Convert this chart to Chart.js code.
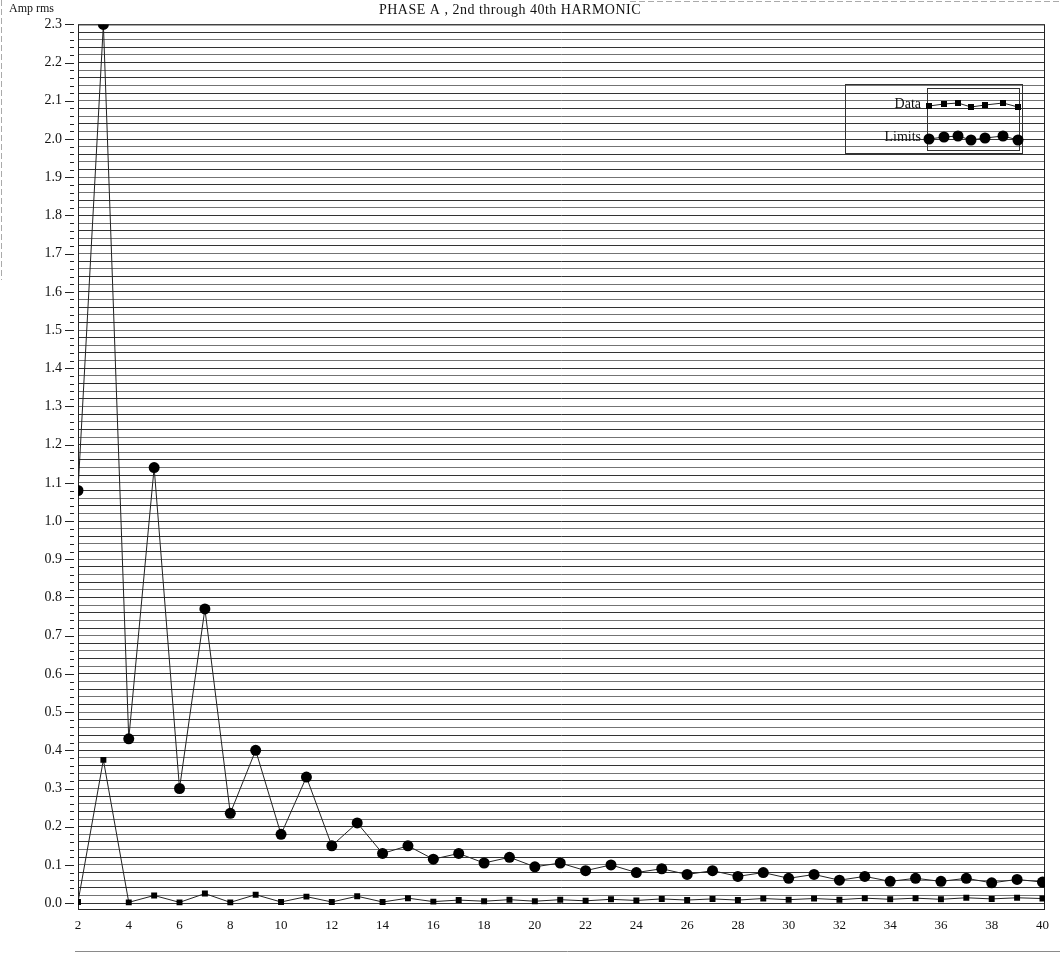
<!DOCTYPE html>
<html>
<head>
<meta charset="utf-8">
<title>PHASE A harmonics</title>
<script src="https://cdn.jsdelivr.net/npm/chart.js@4.4.1/dist/chart.umd.min.js"></script>
<style>
  html, body { margin: 0; padding: 0; background: #fff; }
  #wrap { width: 1060px; height: 953px; position: relative; }
</style>
</head>
<body>
<div id="wrap"><canvas id="harmChart" width="1060" height="953"></canvas></div>
<script>
// harmonic order 2..40
const harmonics = [2, 3, 4, 5, 6, 7, 8, 9, 10, 11, 12, 13, 14, 15, 16, 17, 18, 19, 20, 21,
  22, 23, 24, 25, 26, 27, 28, 29, 30, 31, 32, 33, 34, 35, 36, 37, 38, 39, 40];

// measured amps
const dataAmps = [0.003, 0.375, 0.002, 0.020, 0.002, 0.025, 0.002, 0.022, 0.003, 0.017,
  0.003, 0.018, 0.003, 0.013, 0.004, 0.008, 0.005, 0.009, 0.005, 0.009,
  0.006, 0.010, 0.007, 0.011, 0.008, 0.011, 0.008, 0.012, 0.009, 0.012,
  0.009, 0.013, 0.010, 0.013, 0.010, 0.014, 0.011, 0.014, 0.012];

// allowed limits
const limitAmps = [1.08, 2.30, 0.43, 1.14, 0.30, 0.77, 0.235, 0.40, 0.18, 0.33,
  0.15, 0.21, 0.13, 0.15, 0.115, 0.13, 0.105, 0.12, 0.095, 0.105,
  0.085, 0.10, 0.08, 0.09, 0.075, 0.085, 0.07, 0.08, 0.065, 0.075,
  0.06, 0.07, 0.057, 0.065, 0.057, 0.065, 0.053, 0.062, 0.055];

const xTickLabels = [2, 4, 6, 8, 10, 12, 14, 16, 18, 20, 22, 24, 26, 28, 30, 32, 34, 36, 38, 40];
const yTickLabels = ['0.0', '0.1', '0.2', '0.3', '0.4', '0.5', '0.6', '0.7', '0.8', '0.9', '1.0', '1.1',
  '1.2', '1.3', '1.4', '1.5', '1.6', '1.7', '1.8', '1.9', '2.0', '2.1', '2.2', '2.3'];

const chartTitle = 'PHASE A , 2nd through 40th HARMONIC';
const yAxisTitle = 'Amp rms';

// grid every 0.02, labelled every 0.1
const yGrid = [];
for (let i = 0; i <= 115; i++) yGrid.push({ value: Math.round(i * 2) / 100, label: i % 5 === 0 ? yTickLabels[i / 5] : '' });

const SERIF = '"Liberation Serif", "DejaVu Serif", serif';

const toPoints = vals => harmonics.map((h, i) => ({ x: h, y: vals[i] }));

// plot frame, axis tick marks, title, legend and the page edges
const decorPlugin = {
  id: 'decor',
  beforeDatasetsDraw(chart) {
    const { ctx, chartArea: a, scales } = chart;
    ctx.save();
    ctx.strokeStyle = '#222';
    ctx.lineWidth = 1;
    ctx.strokeRect(a.left + 0.5, a.top + 0.5, a.right - a.left - 1, a.bottom - a.top - 1);
    // y ticks, short ones for the minor grid
    scales.y.ticks.forEach(t => {
      const y = Math.round(scales.y.getPixelForValue(t.value)) + 0.5;
      ctx.beginPath();
      ctx.moveTo(t.label ? a.left - 13 : a.left - 8, y);
      ctx.lineTo(a.left - 4, y);
      ctx.stroke();
    });
    ctx.restore();
  },
  afterDraw(chart) {
    const { ctx, data } = chart;
    ctx.save();
    ctx.fillStyle = '#111';
    ctx.textBaseline = 'middle';
    ctx.font = '12px ' + SERIF;
    ctx.textAlign = 'left';
    ctx.fillText(yAxisTitle, 9, 9);
    ctx.font = '14px ' + SERIF;
    ctx.letterSpacing = '0.5px';
    ctx.textAlign = 'center';
    ctx.fillText(chartTitle, 510, 10);
    ctx.letterSpacing = '0px';

    // legend box
    const bx = 845, by = 84, bw = 177, bh = 69;
    ctx.strokeStyle = '#333';
    ctx.lineWidth = 1;
    ctx.strokeRect(bx + 0.5, by + 0.5, bw, bh);
    ctx.strokeRect(927.5, 88.5, 92, 62);
    ctx.font = '14px ' + SERIF;
    ctx.textAlign = 'right';
    const rows = [104, 137];
    const wiggle = [2, 0, -1, 3, 1, -1, 3];
    data.datasets.forEach((ds, k) => {
      const y = rows[k];
      ctx.fillStyle = '#111';
      ctx.fillText(ds.label, 921, y);
      const xs = [929, 944, 958, 971, 985, 1003, 1018];
      ctx.strokeStyle = '#222';
      ctx.beginPath();
      xs.forEach((x, i) => i ? ctx.lineTo(x, y + wiggle[i]) : ctx.moveTo(x, y + wiggle[i]));
      ctx.stroke();
      ctx.fillStyle = '#000';
      xs.forEach((x, i) => {
        ctx.beginPath();
        if (ds.pointStyle === 'rect') {
          ctx.rect(x - 3, y + wiggle[i] - 3, 6, 6);
        } else {
          ctx.arc(x, y + wiggle[i], 5.5, 0, Math.PI * 2);
        }
        ctx.fill();
      });
    });

    // edges of the scanned sheet
    ctx.strokeStyle = '#8a8a8a';
    ctx.beginPath();
    ctx.moveTo(75, 951.5); ctx.lineTo(1060, 951.5);
    ctx.stroke();
    ctx.strokeStyle = '#aaa';
    ctx.setLineDash([6, 3]);
    ctx.beginPath();
    ctx.moveTo(1.5, 0); ctx.lineTo(1.5, 280);
    ctx.moveTo(630, 1.5); ctx.lineTo(1060, 1.5);
    ctx.stroke();
    ctx.restore();
  }
};

new Chart(document.getElementById('harmChart'), {
  type: 'line',
  data: {
    datasets: [
      {
        label: 'Data',
        data: toPoints(dataAmps),
        borderColor: '#222',
        borderWidth: 1,
        pointStyle: 'rect',
        pointRadius: 4.2,
        pointBackgroundColor: '#000',
        pointBorderWidth: 0,
        clip: 0
      },
      {
        label: 'Limits',
        data: toPoints(limitAmps),
        borderColor: '#222',
        borderWidth: 1,
        pointStyle: 'circle',
        pointRadius: 5.5,
        pointBackgroundColor: '#000',
        pointBorderWidth: 0,
        clip: 0
      }
    ]
  },
  options: {
    responsive: false,
    animation: false,
    devicePixelRatio: 1,
    layout: { padding: { top: 22, right: 15, left: 0, bottom: 0 } },
    plugins: {
      legend: { display: false },
      title: { display: false },
      tooltip: { enabled: false }
    },
    scales: {
      x: {
        type: 'linear',
        min: 2,
        max: 40.1,
        afterBuildTicks: s => { s.ticks = xTickLabels.map(v => ({ value: v })); },
        afterFit: s => { s.height = 43; },
        grid: { display: false },
        border: { display: false },
        ticks: {
          autoSkip: false,
          maxRotation: 0,
          padding: 0,
          color: '#111',
          font: { family: SERIF, size: 13 }
        }
      },
      y: {
        type: 'linear',
        min: -0.018,
        max: 2.3,
        afterBuildTicks: s => { s.ticks = yGrid.map(t => ({ value: t.value })); },
        afterFit: s => { s.width = 78; },
        border: { display: false },
        grid: {
          drawTicks: false,
          lineWidth: 1,
          color: c => (c.index % 2 ? 'rgba(0,0,0,0.55)' : 'rgba(0,0,0,0.8)')
        },
        ticks: {
          autoSkip: false,
          padding: 16,
          color: '#111',
          font: { family: SERIF, size: 14 },
          callback: (v, i) => yGrid[i].label
        }
      }
    }
  },
  plugins: [decorPlugin]
});
</script>
</body>
</html>
